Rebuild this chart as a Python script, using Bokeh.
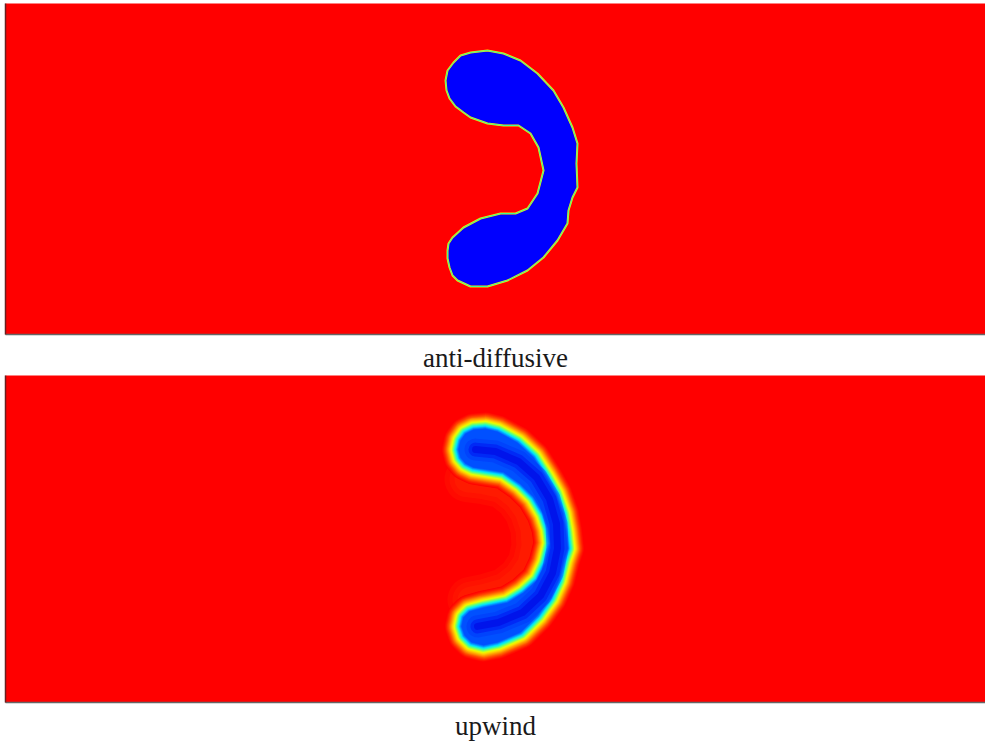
from bokeh.plotting import figure
from bokeh.models import Range1d, LinearAxis, FixedTicker
from bokeh.layouts import column
from bokeh.embed import file_html
from bokeh.resources import INLINE

# Domain of each panel (reference pixel units)
x_extent = [0, 980]
y_extent = [0, 331]

captions = ["anti-diffusive", "upwind"]

# anti-diffusive: boundary of the blue (phase) region
anti_x = [442, 448, 455, 465, 482, 498, 515, 532, 548, 558, 567, 572, 571, 572, 567, 563, 562,
          552, 538, 522, 502, 482, 465, 452, 447, 444, 442, 442, 443, 447, 458, 475, 495, 510,
          522, 532, 538, 533, 525, 513, 498, 482, 465, 458, 450, 444, 441, 440]
anti_y = [264, 272, 279, 282, 284, 281, 274, 261, 244, 227, 207, 191, 171, 147, 137, 124, 111,
          94, 77, 64, 54, 48, 48, 54, 59, 67, 76, 84, 91, 97, 107, 116, 121, 121,
          126, 141, 164, 187, 201, 209, 209, 211, 217, 222, 228, 236, 244, 254]

# upwind: boundary of the blue core
up_x = [455, 460, 468, 480, 492, 512, 528, 540, 550, 557, 560, 562, 558, 553, 545, 532, 515,
        492, 478, 466, 459, 456, 458, 464, 478, 502, 518, 532, 540, 545, 543, 538, 528, 515,
        498, 480, 468, 460, 455, 453]
up_y = [265, 272, 276, 277, 274, 263, 248, 229, 211, 191, 174, 156, 144, 124, 106, 88, 71,
        61, 58, 61, 68, 77, 86, 92, 96, 101, 111, 124, 141, 161, 176, 191, 208, 221,
        233, 236, 238, 242, 248, 256]

# upwind: ridge (darkest blue) line
ridge_x = [470, 490, 513, 531, 544, 551, 552, 547, 535, 517, 493, 472]
ridge_y = [256, 254, 244, 228, 206, 181, 156, 131, 108, 91, 81, 77]

# upwind: diffuse glow on the concave side
glow_x = [462, 478, 497, 512, 522, 528, 529, 525, 515, 500, 480, 465]
glow_y = [226, 224, 220, 208, 194, 176, 158, 140, 125, 113, 107, 104]

# colour ramp of the smeared interface: distance from the core (px) -> colour
ramp_d = [0, 1.5, 3, 4.5, 6, 7.5, 9, 11, 13, 15, 17]
ramp_c = ["#0050ff", "#0090ff", "#00e0ff", "#30ffb0", "#90ff50", "#e8ff00",
          "#ffd000", "#ff9000", "#ff5000", "#ff2000", "#ff0000"]

SERIF = "'Liberation Serif', serif"


def hex_rgb(h):
    return [int(h[i:i + 2], 16) for i in (1, 3, 5)]


def ramp(d):
    for i in range(len(ramp_d) - 1):
        if ramp_d[i] <= d <= ramp_d[i + 1]:
            t = (d - ramp_d[i]) / (ramp_d[i + 1] - ramp_d[i])
            a, b = hex_rgb(ramp_c[i]), hex_rgb(ramp_c[i + 1])
            return "#%02x%02x%02x" % tuple(round(a[k] + (b[k] - a[k]) * t) for k in range(3))
    return ramp_c[-1]


def make_panel(caption, height, top, bottom):
    p = figure(width=985, height=height, x_range=Range1d(*x_extent), y_range=Range1d(*y_extent),
               x_axis_type=None, y_axis_type=None, toolbar_location=None,
               output_backend="svg", min_border_left=5, min_border_right=0,
               min_border_top=top, min_border_bottom=bottom)
    p.background_fill_color = "#ff0000"
    p.border_fill_color = "white"
    p.outline_line_color = None
    xa = LinearAxis(ticker=FixedTicker(ticks=[]), axis_label=caption)
    xa.axis_line_color = "#666666"
    xa.axis_line_width = 1.5
    xa.major_tick_line_color = None
    xa.minor_tick_line_color = None
    xa.axis_label_text_font = SERIF
    xa.axis_label_text_font_size = "27px"
    xa.axis_label_text_font_style = "normal"
    xa.axis_label_text_color = "#1a1a1a"
    xa.axis_label_standoff = 8
    p.add_layout(xa, "below")
    ya = LinearAxis(ticker=FixedTicker(ticks=[]))
    ya.axis_line_color = "#6a2020"
    ya.axis_line_width = 1.5
    ya.major_tick_line_color = None
    ya.minor_tick_line_color = None
    p.add_layout(ya, "left")
    return p


p1 = make_panel(captions[0], 375, 3, 41)
p1.patch(anti_x, anti_y, fill_color="#0000ff", line_color=None)
p1.patch(anti_x, anti_y, fill_color=None, line_color="#ffe000", line_width=2, line_join="round")
p1.patch(anti_x, anti_y, fill_color=None, line_color="#40ff90", line_width=1, line_join="round")

p2 = make_panel(captions[1], 368, 0, 37)
for w in (46, 36, 26):
    p2.line(glow_x, glow_y, line_color="#ff6000", line_width=w, line_alpha=0.1,
            line_cap="round", line_join="round")
d = 17.0
while d > 0:
    c = ramp(d)
    p2.patch(up_x, up_y, fill_color=c, line_color=c, line_width=2 * d, line_join="round")
    d -= 0.5
p2.patch(up_x, up_y, fill_color=ramp(0), line_color=None)
p2.line(ridge_x, ridge_y, line_color="#0030f8", line_width=22, line_cap="round",
        line_join="round", line_alpha=0.4)
p2.line(ridge_x, ridge_y, line_color="#0010f0", line_width=14, line_cap="round",
        line_join="round", line_alpha=0.5)
p2.line(ridge_x, ridge_y, line_color="#0000e0", line_width=7, line_cap="round",
        line_join="round", line_alpha=0.5)

layout = column(p1, p2, spacing=0)
open("out.html", "w").write(file_html(layout, INLINE))
